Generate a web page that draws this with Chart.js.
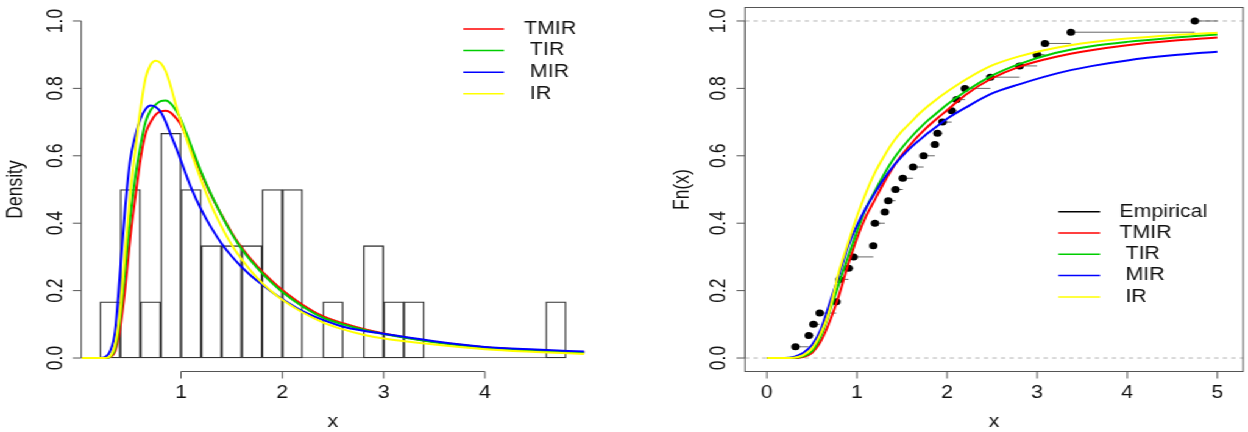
<!DOCTYPE html>
<html>
<head>
<meta charset="utf-8">
<script src="https://cdn.jsdelivr.net/npm/chart.js@4.4.1/dist/chart.umd.min.js"></script>
<style>
  html, body { margin: 0; padding: 0; background: #fff; overflow: hidden; }
  /* both panels are laid out on a 1024px stage and widened to the window */
  #stage { position: absolute; left: 0; top: 0; width: 1024px; height: 432px; transform: scaleX(1.21875); transform-origin: 0 0; }
  #stage canvas { position: absolute; top: 0; }
  #c-dens { left: 0; }
  #c-cdf { left: 512px; }
</style>
</head>
<body>
<div id="stage">
  <canvas id="c-dens" width="512" height="432"></canvas>
  <canvas id="c-cdf" width="512" height="432"></canvas>
</div>
<script>
const models      = ['TMIR', 'TIR', 'MIR', 'IR']
const modelLabels = ['TMIR', ' TIR', ' MIR', ' IR']
const modelColors = ['#ff0000', '#00cd00', '#0000ff', '#ffff00']

// histogram: bins of width 0.2 from 0.2 to 4.8
const binWidth   = 0.2
const binMids    = [0.3, 0.5, 0.7, 0.9, 1.1, 1.3, 1.5, 1.7, 1.9, 2.1, 2.3, 2.5, 2.7, 2.9, 3.1, 3.3, 3.5, 3.7, 3.9, 4.1, 4.3, 4.5, 4.7]
const binDensity = [0.1667, 0.5, 0.1667, 0.6667, 0.5, 0.3333, 0.3333, 0.3333, 0.5, 0.5, 0, 0.1667, 0, 0.3333, 0.1667, 0.1667, 0, 0, 0, 0, 0, 0, 0.1667]

// fitted densities
const densX    = [0.02, 0.2, 0.25, 0.3, 0.35, 0.4, 0.45, 0.5, 0.55, 0.6, 0.65, 0.7, 0.75, 0.8, 0.85, 0.9, 0.95, 1.0, 1.1, 1.2, 1.3, 1.4, 1.5, 1.6, 1.7, 1.8, 1.9, 2.0, 2.2, 2.4, 2.6, 2.8, 3.0, 3.5, 4.0, 4.5, 4.98]
const densTMIR = [0, 0, 0, 0.003, 0.02, 0.09, 0.21, 0.36, 0.48, 0.59, 0.665, 0.70, 0.722, 0.732, 0.734, 0.728, 0.712, 0.692, 0.62, 0.548, 0.482, 0.425, 0.372, 0.327, 0.29, 0.257, 0.228, 0.202, 0.158, 0.124, 0.103, 0.086, 0.073, 0.048, 0.032, 0.023, 0.017]
const densTIR  = [0, 0, 0, 0.004, 0.03, 0.12, 0.27, 0.42, 0.54, 0.63, 0.70, 0.735, 0.752, 0.762, 0.764, 0.755, 0.735, 0.706, 0.63, 0.552, 0.484, 0.424, 0.369, 0.323, 0.285, 0.252, 0.222, 0.196, 0.153, 0.12, 0.10, 0.084, 0.071, 0.047, 0.031, 0.022, 0.016]
const densMIR  = [0, 0, 0.003, 0.02, 0.08, 0.26, 0.45, 0.59, 0.66, 0.71, 0.738, 0.749, 0.745, 0.73, 0.70, 0.662, 0.625, 0.585, 0.505, 0.44, 0.386, 0.34, 0.302, 0.27, 0.242, 0.218, 0.195, 0.175, 0.139, 0.113, 0.093, 0.081, 0.072, 0.05, 0.033, 0.025, 0.019]
const densIR   = [0, 0, 0, 0.005, 0.04, 0.14, 0.32, 0.49, 0.62, 0.74, 0.83, 0.87, 0.882, 0.875, 0.85, 0.805, 0.75, 0.70, 0.61, 0.527, 0.452, 0.39, 0.336, 0.292, 0.255, 0.223, 0.196, 0.173, 0.135, 0.106, 0.085, 0.069, 0.058, 0.04, 0.026, 0.018, 0.012]

// fitted distribution functions
const cdfX    = [0, 0.2, 0.3, 0.4, 0.5, 0.6, 0.7, 0.8, 0.9, 1.0, 1.1, 1.2, 1.3, 1.4, 1.5, 1.6, 1.7, 1.8, 1.9, 2.0, 2.2, 2.5, 2.8, 3.2, 3.6, 4.0, 4.5, 5.0]
const cdfTMIR = [0, 0, 0, 0.003, 0.015, 0.05, 0.11, 0.185, 0.275, 0.355, 0.42, 0.47, 0.52, 0.565, 0.603, 0.635, 0.664, 0.69, 0.713, 0.735, 0.78, 0.83, 0.864, 0.893, 0.913, 0.928, 0.941, 0.951]
const cdfTIR  = [0, 0, 0.0005, 0.005, 0.02, 0.065, 0.14, 0.22, 0.30, 0.375, 0.445, 0.495, 0.545, 0.588, 0.624, 0.655, 0.683, 0.708, 0.73, 0.752, 0.79, 0.838, 0.872, 0.905, 0.925, 0.938, 0.95, 0.96]
const cdfMIR  = [0, 0, 0.003, 0.015, 0.038, 0.085, 0.165, 0.245, 0.33, 0.393, 0.445, 0.49, 0.532, 0.568, 0.598, 0.625, 0.648, 0.67, 0.69, 0.71, 0.742, 0.785, 0.812, 0.843, 0.866, 0.883, 0.898, 0.909]
const cdfIR   = [0, 0, 0.001, 0.008, 0.028, 0.073, 0.145, 0.255, 0.34, 0.42, 0.49, 0.55, 0.598, 0.64, 0.673, 0.70, 0.727, 0.75, 0.771, 0.79, 0.825, 0.868, 0.895, 0.92, 0.937, 0.948, 0.958, 0.965]

// empirical distribution (jump points and levels)
const ecdfX = [0.319, 0.466, 0.518, 0.587, 0.771, 0.808, 0.907, 0.962, 1.182, 1.200, 1.310, 1.348, 1.428, 1.509, 1.623, 1.740, 1.865, 1.894, 1.949, 2.052, 2.107, 2.199, 2.481, 2.805, 2.999, 3.087, 3.374, 4.750]
const ecdfY = [0.0333, 0.0667, 0.1, 0.1333, 0.1667, 0.2333, 0.2667, 0.3, 0.3333, 0.4, 0.4333, 0.4667, 0.5, 0.5333, 0.5667, 0.6, 0.6333, 0.6667, 0.7, 0.7333, 0.7667, 0.8, 0.8333, 0.8667, 0.9, 0.9333, 0.9667, 1.0]
const ecdfFrom = 0
const ecdfTo   = 5

const densXTicks = [1, 2, 3, 4]
const cdfXTicks  = [0, 1, 2, 3, 4, 5]
const probTicks  = [0, 0.2, 0.4, 0.6, 0.8, 1.0]

const FONT = '17.5px "Liberation Sans", Arial, Helvetica, sans-serif'

// base-graphics look: short axis lines, outward ticks, rotated y labels, plain legend
const rAxes = {
  id: 'rAxes',
  beforeDatasetsDraw(chart, args, o) {
    const { ctx, chartArea: a, scales: { x, y } } = chart
    ctx.save()
    if (o.baseline) {
      ctx.strokeStyle = '#777'
      ctx.lineWidth = 1
      const py = y.getPixelForValue(0) - 0.5
      ctx.beginPath()
      ctx.moveTo(x.getPixelForValue(o.baseline[0]), py)
      ctx.lineTo(x.getPixelForValue(o.baseline[1]), py)
      ctx.stroke()
    }
    if (o.refLines) {
      ctx.strokeStyle = '#b3b3b3'
      ctx.lineWidth = 1
      ctx.setLineDash([3.5, 3.5])
      o.refLines.forEach(v => {
        const py = y.getPixelForValue(v)
        ctx.beginPath(); ctx.moveTo(a.left, py); ctx.lineTo(a.right, py); ctx.stroke()
      })
    }
    ctx.restore()
  },
  afterDraw(chart, args, o) {
    const { ctx, chartArea: a, scales: { x, y } } = chart
    ctx.save()
    ctx.strokeStyle = '#555'
    ctx.lineWidth = 1
    ctx.fillStyle = '#111'
    ctx.font = FONT

    if (o.box) ctx.strokeRect(a.left, a.top, a.right - a.left, a.bottom - a.top)

    // y axis
    const y0 = y.getPixelForValue(o.yTicks[0])
    const y1 = y.getPixelForValue(o.yTicks[o.yTicks.length - 1])
    ctx.beginPath()
    ctx.moveTo(a.left, y0); ctx.lineTo(a.left, y1)
    o.yTicks.forEach(v => {
      const py = y.getPixelForValue(v)
      ctx.moveTo(a.left, py); ctx.lineTo(a.left - 7, py)
    })
    ctx.stroke()
    ctx.textAlign = 'center'
    ctx.textBaseline = 'alphabetic'
    o.yTicks.forEach(v => {
      ctx.save()
      ctx.translate(a.left - 16, y.getPixelForValue(v))
      ctx.rotate(-Math.PI / 2)
      ctx.fillText(v.toFixed(1), 0, 0)
      ctx.restore()
    })
    ctx.save()
    ctx.translate(a.left - o.yTitleOffset, (a.top + a.bottom) / 2)
    ctx.rotate(-Math.PI / 2)
    ctx.fillText(o.yTitle, 0, 0)
    ctx.restore()

    // x axis
    const x0 = x.getPixelForValue(o.xTicks[0])
    const x1 = x.getPixelForValue(o.xTicks[o.xTicks.length - 1])
    ctx.beginPath()
    ctx.moveTo(x0, a.bottom); ctx.lineTo(x1, a.bottom)
    o.xTicks.forEach(v => {
      const px = x.getPixelForValue(v)
      ctx.moveTo(px, a.bottom); ctx.lineTo(px, a.bottom + 7)
    })
    ctx.stroke()
    o.xTicks.forEach(v => ctx.fillText(String(v), x.getPixelForValue(v), a.bottom + 26))
    ctx.fillText(o.xTitle, (a.left + a.right) / 2, a.bottom + 55)

    // legend
    const lg = o.legend
    ctx.textAlign = 'left'
    ctx.textBaseline = 'middle'
    ctx.lineWidth = 1.5
    lg.labels.forEach((lab, i) => {
      const py = lg.top + i * lg.gap
      ctx.strokeStyle = lg.colors[i]
      ctx.beginPath(); ctx.moveTo(lg.x0, py); ctx.lineTo(lg.x1, py); ctx.stroke()
      ctx.fillText(lab, lg.textX, py)
    })
    ctx.restore()
  }
}

function curveSet(xs, series) {
  return series.map((ys, k) => ({
    label: models[k],
    data: xs.map((x, i) => ({ x, y: ys[i] })),
    borderColor: modelColors[k],
    borderWidth: 2,
    pointRadius: 0,
    cubicInterpolationMode: 'monotone',
    order: 4 - k,
  }))
}

function axisOpts(min, max, size, horizontal) {
  return {
    type: 'linear', min, max, offset: false,
    ticks: { display: false, stepSize: 1 },
    grid: { display: false },
    border: { display: false },
    afterFit(scale) { if (horizontal) scale.height = size; else scale.width = size },
  }
}

new Chart(document.getElementById('c-dens'), {
  type: 'line',
  data: {
    datasets: [
      {
        type: 'bar',
        data: binMids.map((x, i) => ({ x, y: binDensity[i] })),
        backgroundColor: 'rgba(0,0,0,0)',
        borderColor: '#333',
        borderWidth: 0.7,
        borderSkipped: false,
        barPercentage: 1,
        categoryPercentage: 1,
        order: 10,
      },
      ...curveSet(densX, [densTMIR, densTIR, densMIR, densIR]),
    ],
  },
  options: {
    responsive: false, animation: false, events: [],
    layout: { padding: { top: 7.5, right: 32.3, bottom: 0, left: 0 } },
    plugins: {
      legend: { display: false }, tooltip: { enabled: false },
      rAxes: {
        xTicks: densXTicks, yTicks: probTicks, xTitle: 'x', yTitle: 'Density', yTitleOffset: 48.5,
        baseline: [binMids[0] - binWidth / 2, binMids[binMids.length - 1] + binWidth / 2],
        legend: { labels: modelLabels, colors: modelColors, top: 29, gap: 21.6, x0: 380.1, x1: 413.5, textX: 430 },
      },
    },
    scales: {
      x: axisOpts(0.016, 4.984, 60.5, true),
      y: axisOpts(-0.04, 1.04, 66.7, false),
    },
  },
  plugins: [rAxes],
})

const stepSegments = []
const stepStarts = [ecdfFrom, ...ecdfX]
const stepEnds   = [...ecdfX, ecdfTo]
const stepLevels = [0, ...ecdfY]
stepStarts.forEach((s, i) => {
  stepSegments.push({ x: s, y: stepLevels[i] }, { x: stepEnds[i], y: stepLevels[i] }, { x: stepEnds[i], y: null })
})

new Chart(document.getElementById('c-cdf'), {
  type: 'line',
  data: {
    datasets: [
      {
        label: 'Empirical',
        data: stepSegments,
        borderColor: 'rgba(0,0,0,0.6)',
        borderWidth: 1,
        pointRadius: 0,
        spanGaps: false,
        order: 10,
      },
      {
        label: 'Empirical points',
        data: ecdfX.map((x, i) => ({ x, y: ecdfY[i] })),
        showLine: false,
        pointRadius: 3.5,
        pointBackgroundColor: '#000',
        pointBorderWidth: 0,
        order: 9,
      },
      ...curveSet(cdfX, [cdfTMIR, cdfTIR, cdfMIR, cdfIR]),
    ],
  },
  options: {
    responsive: false, animation: false, events: [],
    layout: { padding: { top: 7.5, right: 1.1, bottom: 0, left: 0 } },
    plugins: {
      legend: { display: false }, tooltip: { enabled: false },
      rAxes: {
        xTicks: cdfXTicks, yTicks: probTicks, xTitle: 'x', yTitle: 'Fn(x)', yTitleOffset: 46.5,
        box: true, refLines: [0, 1],
        legend: {
          labels: ['Empirical', ...modelLabels], colors: ['#000', ...modelColors],
          top: 211.7, gap: 21.3, x0: 356.4, x1: 390.6, textX: 406.6,
        },
      },
    },
    scales: {
      x: axisOpts(-0.242, 5.286, 60.5, true),
      y: axisOpts(-0.04, 1.04, 99.3, false),
    },
  },
  plugins: [rAxes],
})
</script>
</body>
</html>
